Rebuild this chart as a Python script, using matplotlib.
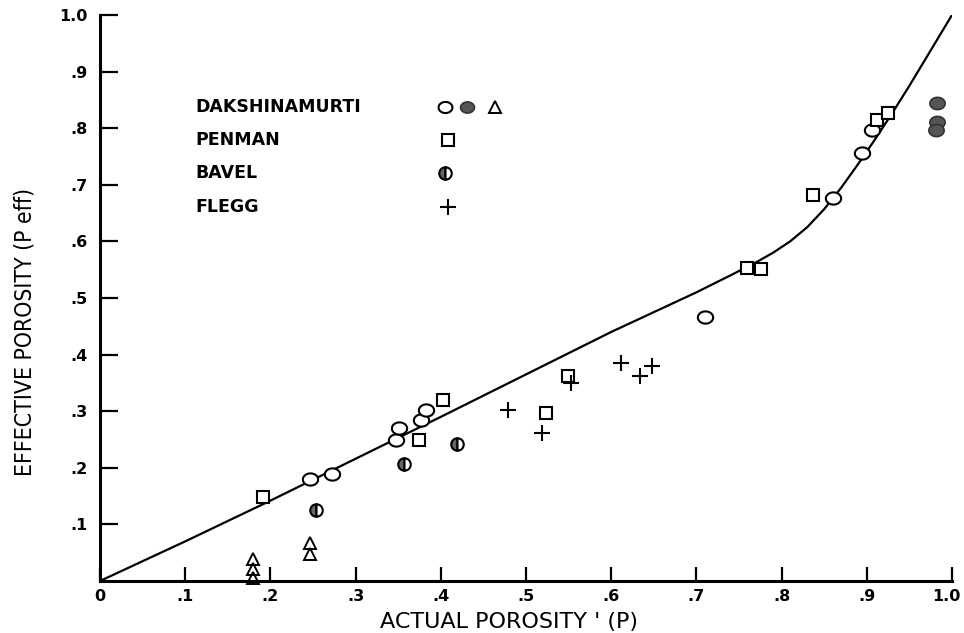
import numpy as np
import matplotlib
matplotlib.use("Agg")
import matplotlib.pyplot as plt
import matplotlib.transforms as mtransforms
from matplotlib.path import Path

# ---- data ----
dak_circ_x = [0.246, 0.272, 0.347, 0.351, 0.377, 0.383, 0.710, 0.860, 0.894, 0.906]
dak_circ_y = [0.180, 0.189, 0.249, 0.270, 0.284, 0.302, 0.466, 0.677, 0.756, 0.797]
dak_fill_x = [0.982, 0.982, 0.981]
dak_fill_y = [0.844, 0.811, 0.797]
dak_tri_x = [0.180, 0.180, 0.180, 0.246, 0.246]
dak_tri_y = [0.038, 0.022, 0.006, 0.067, 0.047]
pen_x = [0.191, 0.374, 0.403, 0.523, 0.549, 0.759, 0.776, 0.837, 0.912, 0.925]
pen_y = [0.148, 0.249, 0.320, 0.297, 0.362, 0.553, 0.551, 0.682, 0.815, 0.827]
bav_x = [0.254, 0.357, 0.419]
bav_y = [0.125, 0.207, 0.242]
fle_x = [0.479, 0.519, 0.553, 0.611, 0.634, 0.648]
fle_y = [0.302, 0.261, 0.350, 0.385, 0.362, 0.380]

curve_x = [0.0, 0.1, 0.2, 0.3, 0.4, 0.5, 0.6, 0.7, 0.74, 0.77, 0.79, 0.81,
           0.83, 0.85, 0.87, 0.89, 0.91, 0.93, 0.95, 0.97, 1.0]
curve_y = [0.0, 0.070, 0.142, 0.216, 0.290, 0.365, 0.440, 0.510, 0.540, 0.563,
           0.580, 0.600, 0.625, 0.657, 0.695, 0.737, 0.781, 0.827, 0.875, 0.925, 1.0]

xtick_vals = [0, .1, .2, .3, .4, .5, .6, .7, .8, .9, 1.0]
xtick_labels = ["0", ".1", ".2", ".3", ".4", ".5", ".6", ".7", ".8", ".9", "1.0"]
ytick_vals = [.1, .2, .3, .4, .5, .6, .7, .8, .9, 1.0]
ytick_labels = [".1", ".2", ".3", ".4", ".5", ".6", ".7", ".8", ".9", "1.0"]

legend_names = ["DAKSHINAMURTI", "PENMAN", "BAVEL", "FLEGG"]

# ---- figure ----
fig = plt.figure(figsize=(9.64, 6.33), dpi=100)
ax = fig.add_axes([100/964, 52/633, 852/964, 566/633])
ax.set_xlim(0, 1)
ax.set_ylim(0, 1)
for s in ["top", "right"]:
    ax.spines[s].set_visible(False)
for s in ["left", "bottom"]:
    ax.spines[s].set_linewidth(2.2)

# elliptical (slightly wide) circle marker
t = np.linspace(0, 2*np.pi, 60)
ell = Path(np.column_stack([1.25*np.cos(t), np.sin(t)]), closed=True)

ax.plot(curve_x, curve_y, color="black", lw=1.6, zorder=2)

mk = dict(linestyle="none", clip_on=False, zorder=3)
ax.plot(dak_circ_x, dak_circ_y, marker=ell, ms=11, mfc="white", mec="black", mew=1.5, **mk)
ax.plot(dak_fill_x, dak_fill_y, marker=ell, ms=11, mfc="#555555", mec="#333333", mew=1.2, **mk)
ax.plot(dak_tri_x, dak_tri_y, marker="^", ms=9, mfc="none", mec="black", mew=1.4, **mk)
ax.plot(pen_x, pen_y, marker="s", ms=8, mfc="white", mec="black", mew=1.5, **mk)
ax.plot(bav_x, bav_y, marker="o", ms=9, fillstyle="left", mfc="#666666",
        mfcalt="white", mec="black", mew=1.5, **mk)
ax.plot(fle_x, fle_y, marker="+", ms=12, mec="black", mew=1.5, **mk)

# legend block
leg_tx = 0.1115
leg_y = [0.837, 0.779, 0.721, 0.661]
for name, yy in zip(legend_names, leg_y):
    ax.text(leg_tx, yy, name, fontsize=12.5, fontweight="bold", va="center",
            ha="left", family="DejaVu Sans")
ax.plot([0.405], [leg_y[0]], marker=ell, ms=10, mfc="white", mec="black", mew=1.5, **mk)
ax.plot([0.431], [leg_y[0]], marker=ell, ms=10, mfc="#555555", mec="#333333", mew=1.2, **mk)
ax.plot([0.464], [leg_y[0]], marker="^", ms=9, mfc="none", mec="black", mew=1.4, **mk)
ax.plot([0.408], [leg_y[1]], marker="s", ms=8, mfc="white", mec="black", mew=1.5, **mk)
ax.plot([0.405], [leg_y[2]], marker="o", ms=9, fillstyle="left", mfc="#666666",
        mfcalt="white", mec="black", mew=1.5, **mk)
ax.plot([0.408], [leg_y[3]], marker="+", ms=12, mec="black", mew=1.5, **mk)

# ticks
ax.set_xticks(xtick_vals)
ax.set_xticklabels(xtick_labels, fontsize=11.5, fontweight="bold")
ax.set_yticks(ytick_vals)
ax.set_yticklabels(ytick_labels, fontsize=11.5, fontweight="bold")
ax.tick_params(axis="x", direction="in", length=10, width=1.6, pad=6)
ax.tick_params(axis="y", direction="in", length=13, width=1.6, pad=9)
# nudge the last x label so it stays inside the figure
last = ax.get_xticklabels()[-1]
last.set_transform(last.get_transform() +
                   mtransforms.ScaledTranslation(-6/100, 0, fig.dpi_scale_trans))

ax.text(0.48, -0.072, "ACTUAL POROSITY ' (P)", transform=ax.transAxes,
        fontsize=16, ha="center", va="center", family="DejaVu Sans")
fig.text(25/964, 1 - 332/633, "EFFECTIVE POROSITY (P eff)", rotation=90,
         fontsize=16.5, ha="center", va="center",
         family="DejaVu Sans", fontstretch="condensed")

fig.savefig("out.png", dpi=100)
